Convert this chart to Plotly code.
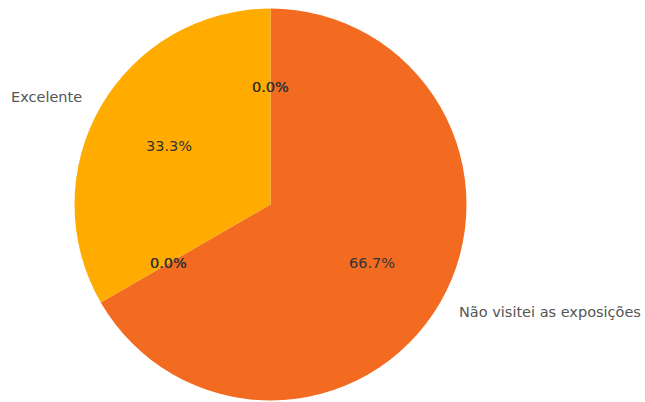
import math
import plotly.graph_objects as go

# Data (clockwise from 12 o'clock); zero-valued categories carry no visible label
categories = ["Bom", "Não visitei as exposições", "Regular", "Ruim", "Excelente", "Péssimo"]
shown_labels = ["", "Não visitei as exposições", "", "", "Excelente", ""]
values = [0, 2, 0, 0, 1, 0]
colors = ["#F7941D", "#F26B21", "#FFD24D", "#E8590C", "#FFAB00", "#FFC04D"]

W, H = 645, 402
CX, CY, R = 270.5, 204.5, 196  # pixel centre/radius of pie

fig = go.Figure()
fig.add_trace(go.Pie(
    labels=categories,
    values=values,
    sort=False,
    direction="clockwise",
    rotation=0,
    marker=dict(colors=colors, line=dict(width=0)),
    textinfo="none",
    showlegend=False,
    hoverinfo="label+percent",
    domain=dict(x=[(CX - R) / W, (CX + R) / W], y=[(H - CY - R) / H, (H - CY + R) / H]),
))

total = sum(values)
annotations = []
start = 90.0
font_family = "DejaVu Sans, sans-serif"
for lab, v in zip(shown_labels, values):
    sweep = 360.0 * v / total
    mid = start - sweep / 2.0
    th = math.radians(mid)
    # percentage at 0.6 R
    px = CX + 0.6 * R * math.cos(th)
    py = CY - 0.6 * R * math.sin(th)
    annotations.append(dict(
        x=px / W, y=1 - py / H, xref="paper", yref="paper",
        text=f"{100.0 * v / total:.1f}%", showarrow=False,
        xanchor="center", yanchor="middle",
        font=dict(family=font_family, size=14.5, color="#333333"),
    ))
    if lab:
        lx = CX + 1.1 * R * math.cos(th)
        ly = CY - 1.1 * R * math.sin(th)
        annotations.append(dict(
            x=lx / W, y=1 - ly / H, xref="paper", yref="paper",
            text=lab, showarrow=False,
            xanchor="left" if math.cos(th) > 0 else "right", yanchor="middle",
            font=dict(family=font_family, size=14.5, color="#555555"),
        ))
    start -= sweep

fig.update_layout(
    width=W, height=H,
    margin=dict(l=0, r=0, t=0, b=0),
    paper_bgcolor="white", plot_bgcolor="white",
    annotations=annotations,
)

fig.write_html("out.html")
